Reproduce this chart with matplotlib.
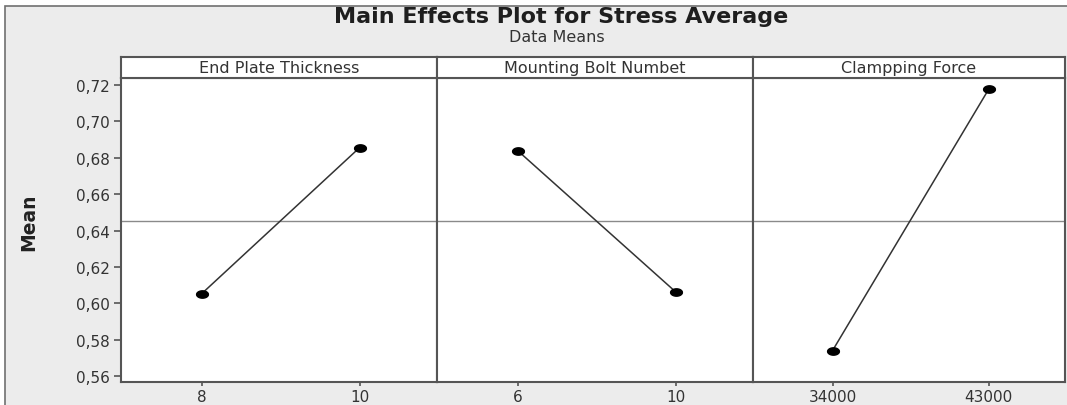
import numpy as np
import matplotlib.pyplot as plt
from matplotlib.patches import Rectangle
from matplotlib.path import Path

factors = ["End Plate Thickness", "Mounting Bolt Numbet", "Clampping Force"]
levels = [["8", "10"], ["6", "10"], ["34000", "43000"]]
means = [[0.6052, 0.6856], [0.6840, 0.6063], [0.5740, 0.7176]]
grand_mean = 0.6454
yticks = [0.56, 0.58, 0.60, 0.62, 0.64, 0.66, 0.68, 0.70, 0.72]

# flattened dot, like the minitab output
t = np.linspace(0, 2 * np.pi, 40)
dot = Path(np.column_stack([1.6 * np.cos(t), np.sin(t)]))

W, H = 1067, 406
fig = plt.figure(figsize=(W / 100, H / 100), dpi=100)
fig.patch.set_facecolor("white")
fig.patches.append(Rectangle((5 / W, -0.05), 1.1, 1 - 7 / H + 0.05,
                             transform=fig.transFigure, facecolor="#ececec",
                             edgecolor="#707070", lw=1.2, zorder=-10))

fig.text(561 / W, 1 - 17 / H, "Main Effects Plot for Stress Average", ha="center", va="center",
         fontsize=16, fontweight="bold", color="#1e1e1e")
fig.text(557 / W, 1 - 38 / H, "Data Means", ha="center", va="center",
         fontsize=11.5, color="#333333")

lefts = [121, 437, 753]
rights = [437, 753, 1065]
ax_top, ax_bot = 79, 383
strip_top = 58

for i in range(3):
    x0 = lefts[i] / W
    w = (rights[i] - lefts[i]) / W
    ax = fig.add_axes([x0, 1 - ax_bot / H, w, (ax_bot - ax_top) / H])
    ax.set_facecolor("white")
    x = np.arange(1, len(levels[i]) + 1)
    ax.axhline(grand_mean, color="#8a8a8a", lw=1.0, zorder=1)
    ax.plot(x, means[i], color="#333333", lw=1.1, marker=dot, markersize=8.5,
            markerfacecolor="black", markeredgecolor="black", zorder=3)
    ax.set_xlim(0.49, 2.49)
    ax.set_ylim(0.5567, 0.7239)
    ax.set_xticks(x)
    ax.set_xticklabels(levels[i], fontsize=11, color="#333333")
    ax.tick_params(axis="x", length=3, width=1.2, color="#555555", pad=2)
    if i == 0:
        ax.set_yticks(yticks)
        ax.set_yticklabels([("%.2f" % v).replace(".", ",") for v in yticks],
                           fontsize=11, color="#333333")
        ax.tick_params(axis="y", length=5, width=1.2, color="#555555", pad=3)
        ax.set_ylabel("Mean", fontsize=13.5, fontweight="bold", family="Liberation Sans Narrow",
                      color="#222222")
        ax.yaxis.set_label_coords(-(121 - 38) / 316, 1 - (222 - 79) / 304)
    else:
        ax.set_yticks([])
    for s in ax.spines.values():
        s.set_color("#555555")
        s.set_linewidth(1.5)

    # strip header with factor name
    sx = fig.add_axes([x0, 1 - ax_top / H, w, (ax_top - strip_top) / H])
    sx.set_facecolor("white")
    sx.set_xticks([])
    sx.set_yticks([])
    for s in sx.spines.values():
        s.set_color("#555555")
        s.set_linewidth(1.5)
    sx.text(0.5, 0.5, factors[i], ha="center", va="center", transform=sx.transAxes,
            fontsize=11.5, color="#333333")

fig.savefig("out.png", dpi=100)
